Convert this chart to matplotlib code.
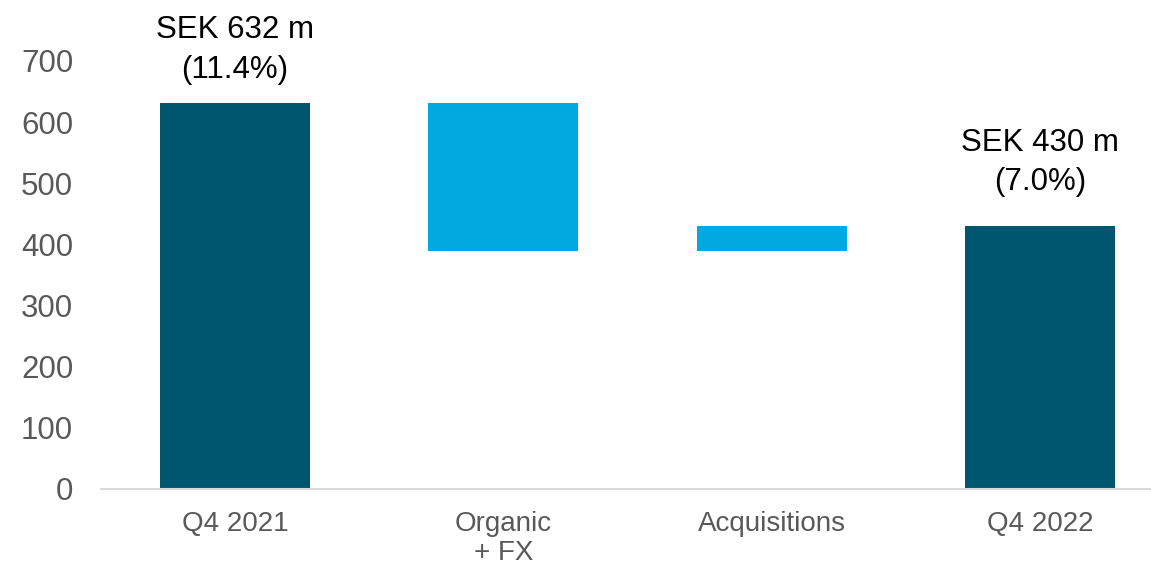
import matplotlib
matplotlib.use("Agg")
import matplotlib.pyplot as plt

# Operating profit bridge, SEK m
categories = ["Q4 2021", "Organic\n+ FX", "Acquisitions", "Q4 2022"]
start_value = 632
changes = [-242, 40]
end_value = 430
start_label = "SEK 632 m\n(11.4%)"
end_label = "SEK 430 m\n(7.0%)"
y_ticks = [0, 100, 200, 300, 400, 500, 600, 700]

DARK = "#00566F"
LIGHT = "#00AAE0"

plt.rcParams["font.family"] = ["Liberation Sans", "DejaVu Sans"]

fig = plt.figure(figsize=(11.51, 5.64), dpi=100)
ax = fig.add_axes([101 / 1151, 75 / 564, 1073 / 1151, 428 / 564])

x = list(range(len(categories)))
width = 0.56

# Totals
ax.bar(x[0], start_value, width=width, color=DARK)
ax.bar(x[3], end_value, width=width, color=DARK)

# Floating change bars
level = start_value
for i, delta in enumerate(changes, start=1):
    new_level = level + delta
    ax.bar(x[i], abs(delta), bottom=min(level, new_level), width=width, color=LIGHT)
    level = new_level

# Labels above the total bars
for xi, val, lab, off in [(x[0], start_value, start_label, 13),
                          (x[3], end_value, end_label, 21)]:
    ax.annotate(lab, xy=(xi, val), xytext=(0, off), textcoords="offset points",
                ha="center", va="bottom", fontsize=22.5, color="#000000",
                linespacing=1.4, annotation_clip=False)

ax.set_xlim(-0.5, 3.5)
ax.set_ylim(0, 700)
ax.set_yticks(y_ticks)
ax.set_xticks(x)
ax.set_xticklabels(categories, fontsize=20, color="#595959", linespacing=1.15)
ax.tick_params(axis="y", labelsize=22.5, labelcolor="#595959", length=0, pad=20)
ax.tick_params(axis="x", length=0, pad=16)

for side in ["top", "right", "left"]:
    ax.spines[side].set_visible(False)
ax.spines["bottom"].set_color("#D9D9D9")
ax.spines["bottom"].set_linewidth(1.5)

fig.savefig("out.png", dpi=100)
